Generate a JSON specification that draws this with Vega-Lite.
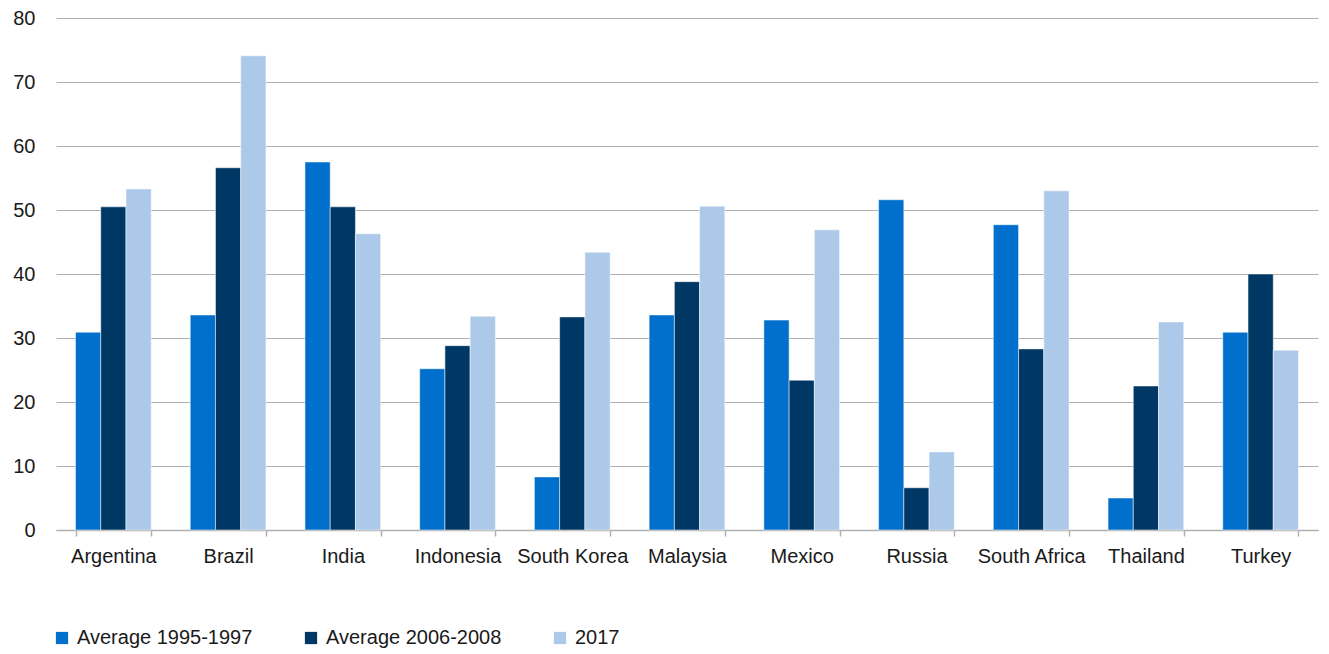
{
  "$schema": "https://vega.github.io/schema/vega-lite/v6.json",
  "autosize": "none",
  "width": 1262,
  "height": 512,
  "padding": {"left": 56, "top": 18, "right": 11, "bottom": 124},
  "background": "white",
  "config": {
    "view": {"stroke": null},
    "font": "Liberation Sans",
    "axis": {"labelFont": "Liberation Sans", "labelColor": "#1a1a1a"}
  },
  "data": {
    "values": [
      {"country": "Argentina", "period": "Average 1995-1997", "value": 30.9},
      {"country": "Argentina", "period": "Average 2006-2008", "value": 50.5},
      {"country": "Argentina", "period": "2017", "value": 53.3},
      {"country": "Brazil", "period": "Average 1995-1997", "value": 33.6},
      {"country": "Brazil", "period": "Average 2006-2008", "value": 56.6},
      {"country": "Brazil", "period": "2017", "value": 74.1},
      {"country": "India", "period": "Average 1995-1997", "value": 57.5},
      {"country": "India", "period": "Average 2006-2008", "value": 50.5},
      {"country": "India", "period": "2017", "value": 46.3},
      {"country": "Indonesia", "period": "Average 1995-1997", "value": 25.2},
      {"country": "Indonesia", "period": "Average 2006-2008", "value": 28.8},
      {"country": "Indonesia", "period": "2017", "value": 33.4},
      {"country": "South Korea", "period": "Average 1995-1997", "value": 8.3},
      {"country": "South Korea", "period": "Average 2006-2008", "value": 33.3},
      {"country": "South Korea", "period": "2017", "value": 43.4},
      {"country": "Malaysia", "period": "Average 1995-1997", "value": 33.6},
      {"country": "Malaysia", "period": "Average 2006-2008", "value": 38.8},
      {"country": "Malaysia", "period": "2017", "value": 50.6},
      {"country": "Mexico", "period": "Average 1995-1997", "value": 32.8},
      {"country": "Mexico", "period": "Average 2006-2008", "value": 23.4},
      {"country": "Mexico", "period": "2017", "value": 46.9},
      {"country": "Russia", "period": "Average 1995-1997", "value": 51.6},
      {"country": "Russia", "period": "Average 2006-2008", "value": 6.6},
      {"country": "Russia", "period": "2017", "value": 12.2},
      {"country": "South Africa", "period": "Average 1995-1997", "value": 47.7},
      {"country": "South Africa", "period": "Average 2006-2008", "value": 28.3},
      {"country": "South Africa", "period": "2017", "value": 53.0},
      {"country": "Thailand", "period": "Average 1995-1997", "value": 5.0},
      {"country": "Thailand", "period": "Average 2006-2008", "value": 22.5},
      {"country": "Thailand", "period": "2017", "value": 32.5},
      {"country": "Turkey", "period": "Average 1995-1997", "value": 30.9},
      {"country": "Turkey", "period": "Average 2006-2008", "value": 40.0},
      {"country": "Turkey", "period": "2017", "value": 28.1}
    ]
  },
  "mark": {"type": "bar", "stroke": "white", "strokeWidth": 0.5},
  "encoding": {
    "x": {
      "field": "country",
      "type": "nominal",
      "sort": null,
      "title": null,
      "scale": {"paddingInner": 0.34, "paddingOuter": 0.17},
      "axis": {
        "labelAngle": 0,
        "labelFontSize": 20,
        "labelPadding": 10,
        "domainColor": "#b0b0b0",
        "domainWidth": 1.5,
        "tickColor": "#b0b0b0",
        "tickWidth": 1.5,
        "tickSize": 6,
        "tickBand": "extent",
        "grid": false
      }
    },
    "xOffset": {
      "field": "period",
      "type": "nominal",
      "sort": ["Average 1995-1997", "Average 2006-2008", "2017"]
    },
    "y": {
      "field": "value",
      "type": "quantitative",
      "title": null,
      "scale": {"domain": [0, 80], "nice": false},
      "axis": {
        "values": [0, 10, 20, 30, 40, 50, 60, 70, 80],
        "labelFontSize": 20,
        "labelPadding": 21,
        "ticks": false,
        "domain": false,
        "gridColor": "#b0b0b0",
        "gridWidth": 1
      }
    },
    "color": {
      "field": "period",
      "type": "nominal",
      "sort": ["Average 1995-1997", "Average 2006-2008", "2017"],
      "scale": {
        "domain": ["Average 1995-1997", "Average 2006-2008", "2017"],
        "range": ["#0070cc", "#003865", "#adc9e9"]
      },
      "legend": {
        "title": null,
        "orient": "none",
        "direction": "horizontal",
        "legendX": -4,
        "legendY": 610,
        "symbolType": "square",
        "symbolSize": 150,
        "symbolStrokeWidth": 0,
        "labelFontSize": 20,
        "labelLimit": 400,
        "labelColor": "#1a1a1a",
        "labelOffset": 5,
        "columnPadding": 48
      }
    }
  }
}
